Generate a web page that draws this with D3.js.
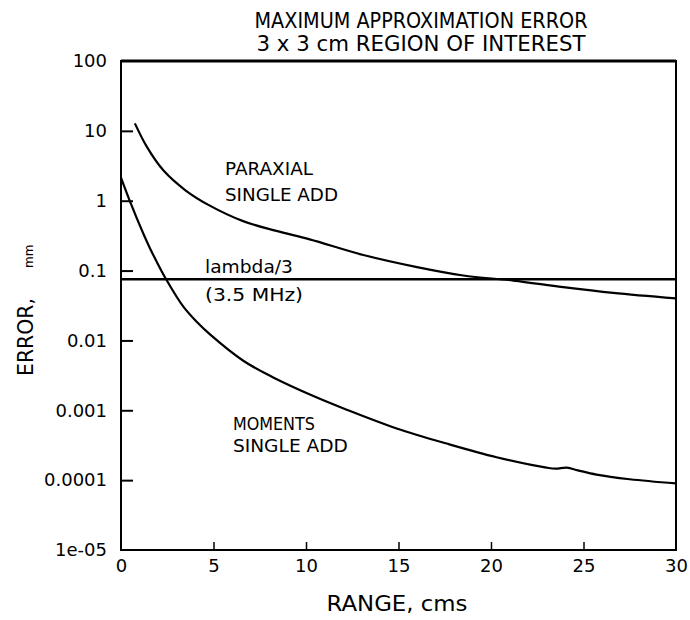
<!DOCTYPE html>
<html>
<head>
<meta charset="utf-8">
<script src="https://cdn.jsdelivr.net/npm/d3@7"></script>
<style>
  html, body { margin: 0; padding: 0; background: #fff; }
  svg { display: block; }
  text { font-family: "DejaVu Sans", "Liberation Sans", sans-serif; fill: #000; }
</style>
</head>
<body>
<svg id="chart" width="690" height="620"></svg>
<script>
// Range (cm) and maximum approximation error (mm) for each method
const paraxialRange = [0.75, 1.4, 2.3, 3.5, 4.8, 6.6, 8.4, 10.2, 13.1, 16.0, 18.5, 21.2, 23.9, 26.6, 30];
const paraxialError = [12.8, 5.9, 2.7, 1.4, 0.85, 0.51, 0.37, 0.28, 0.167, 0.112, 0.085, 0.072, 0.058, 0.048, 0.04];

const momentsRange = [0, 0.49, 1.21, 1.57, 1.93, 2.47, 3.37, 4.09, 4.81, 6.61, 8.23, 10.4, 12.2, 14.9, 17.6, 20.3, 23.0, 23.5, 24.1, 24.7, 25.7, 27.5, 30];
const momentsError = [2.14, 0.97, 0.336, 0.207, 0.134, 0.0726, 0.0304, 0.0185, 0.0122, 0.00512, 0.00295, 0.0016, 0.00102, 0.00055, 0.000334, 0.000213, 0.000151, 0.000146, 0.000151, 0.000138, 0.00012, 0.000103, 0.0000897];

// lambda/3 reference level at 3.5 MHz
const lambdaLevel = 0.075;

// Axis ticks
const xTicks = [0, 5, 10, 15, 20, 25, 30];
const xTickLabels = ["0", "5", "10", "15", "20", "25", "30"];
const yTicks = [100, 10, 1, 0.1, 0.01, 0.001, 0.0001, 0.00001];
const yTickLabels = ["100", "10", "1", "0.1", "0.01", "0.001", "0.0001", "1e-05"];

const svg = d3.select("#chart");
const plotLeft = 121, plotRight = 676, plotTop = 61, plotBottom = 550;

const x = d3.scaleLinear().domain([0, 30]).range([plotLeft, plotRight]);
const y = d3.scaleLog().domain([1e-5, 100]).range([plotBottom, plotTop]);

// Frame
svg.append("rect")
  .attr("x", plotLeft).attr("y", plotTop)
  .attr("width", plotRight - plotLeft).attr("height", plotBottom - plotTop)
  .attr("fill", "none").attr("stroke", "#000").attr("stroke-width", 2);
svg.append("line")
  .attr("x1", plotLeft).attr("x2", plotRight).attr("y1", plotTop).attr("y2", plotTop)
  .attr("stroke", "#000").attr("stroke-width", 3);

// Y axis: ticks point inward
const yAxis = d3.axisLeft(y)
  .tickValues(yTicks)
  .tickFormat((d, i) => yTickLabels[i])
  .tickSizeInner(-12).tickSizeOuter(0).tickPadding(14);
const gy = svg.append("g").attr("transform", `translate(${plotLeft},0)`).call(yAxis);
gy.select(".domain").remove();
gy.selectAll(".tick line").attr("stroke", "#000").attr("stroke-width", 2);
gy.selectAll(".tick text")
  .attr("font-size", 18).attr("font-family", "DejaVu Sans").attr("fill", "#000");
// the end ticks sit on the frame
gy.selectAll(".tick").filter(d => d === 100 || d === 1e-5).select("line").remove();

// X axis: ticks point inward
const xAxis = d3.axisBottom(x)
  .tickValues(xTicks)
  .tickFormat((d, i) => xTickLabels[i])
  .tickSizeInner(-8).tickSizeOuter(0).tickPadding(9);
const gx = svg.append("g").attr("transform", `translate(0,${plotBottom})`).call(xAxis);
gx.select(".domain").remove();
gx.selectAll(".tick line").attr("stroke", "#000").attr("stroke-width", 1.5);
gx.selectAll(".tick").filter(d => d === 0 || d === 30).select("line").remove();
gx.selectAll(".tick text")
  .attr("font-size", 18).attr("font-family", "DejaVu Sans").attr("fill", "#000");

// Curves
const line = d3.line()
  .x(d => x(d[0]))
  .y(d => y(d[1]))
  .curve(d3.curveCatmullRom.alpha(0.5));

const paraxial = paraxialRange.map((r, i) => [r, paraxialError[i]]);
const moments = momentsRange.map((r, i) => [r, momentsError[i]]);

svg.append("path").datum(paraxial)
  .attr("d", line).attr("fill", "none")
  .attr("stroke", "#000").attr("stroke-width", 2.2).attr("stroke-linejoin", "round");
svg.append("path").datum(moments)
  .attr("d", line).attr("fill", "none")
  .attr("stroke", "#000").attr("stroke-width", 2.2).attr("stroke-linejoin", "round");

svg.append("line")
  .attr("x1", x(0)).attr("x2", x(30))
  .attr("y1", y(lambdaLevel)).attr("y2", y(lambdaLevel))
  .attr("stroke", "#000").attr("stroke-width", 2.5);

// Annotations
function label(txt, xv, yPix, size, len) {
  const t = svg.append("text")
    .attr("x", x(xv)).attr("y", yPix)
    .attr("font-size", size)
    .text(txt);
  if (len) t.attr("textLength", len).attr("lengthAdjust", "spacingAndGlyphs");
  return t;
}
label("PARAXIAL", 5.62, y(2.33), 18, 88);
label("SINGLE ADD", 5.62, y(1.0), 18, 113);
label("lambda/3", 4.54, y(lambdaLevel) - 6, 18, 88);
label("(3.5 MHz)", 4.54, y(lambdaLevel) + 22, 18, 98);
label("MOMENTS", 6.05, y(0.000522), 18, 82);
label("SINGLE ADD", 6.05, y(0.000253), 18, 115);

// Titles
svg.append("text")
  .attr("x", 421).attr("y", 28).attr("text-anchor", "middle")
  .attr("font-size", 21).attr("textLength", 333).attr("lengthAdjust", "spacingAndGlyphs")
  .text("MAXIMUM APPROXIMATION ERROR");
svg.append("text")
  .attr("x", 421).attr("y", 51).attr("text-anchor", "middle")
  .attr("font-size", 22).attr("textLength", 329).attr("lengthAdjust", "spacingAndGlyphs")
  .text("3 x 3 cm REGION OF INTEREST");

svg.append("text")
  .attr("x", 397).attr("y", 611).attr("text-anchor", "middle")
  .attr("font-size", 22).attr("textLength", 141).attr("lengthAdjust", "spacingAndGlyphs")
  .text("RANGE, cms");

const yt = svg.append("text")
  .attr("transform", "translate(33,376) rotate(-90)")
  .attr("font-size", 22);
yt.append("tspan").attr("textLength", 78).attr("lengthAdjust", "spacingAndGlyphs").text("ERROR,");
yt.append("tspan").attr("dx", 30).attr("font-size", 12).text("mm");
</script>
</body>
</html>
